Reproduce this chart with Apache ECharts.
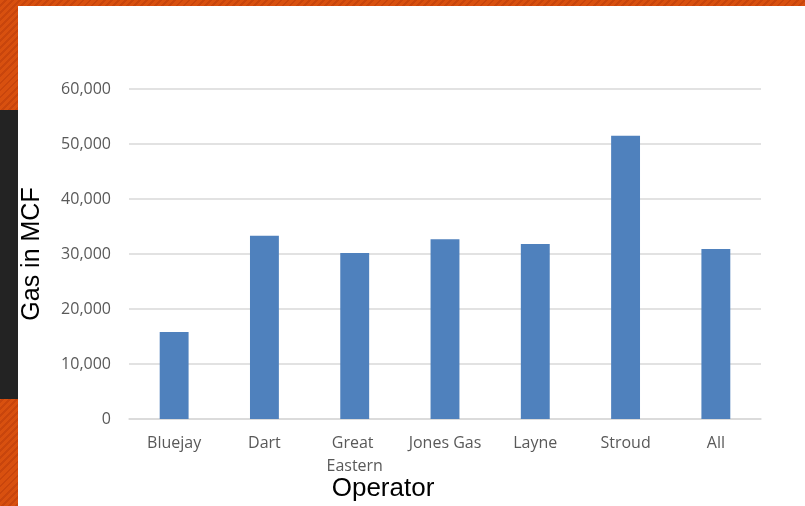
<!DOCTYPE html>
<html>
<head>
<meta charset="utf-8">
<script src="https://cdn.jsdelivr.net/npm/echarts@6/dist/echarts.min.js"></script>
<style>
  html, body { margin: 0; padding: 0; }
  body {
    width: 805px; height: 506px; position: relative; overflow: hidden;
    background: repeating-linear-gradient(135deg, #d8500f 0px, #d8500f 3px, #c8450c 3px, #c8450c 5px);
  }
  #band { position: absolute; left: 0; top: 110px; width: 18px; height: 289px; background: #232323; }
  #chart { position: absolute; left: 18px; top: 6px; width: 787px; height: 500px; background: #ffffff; }
</style>
</head>
<body>
<div id="band"></div>
<div id="chart"></div>
<script>
const categories = ['Bluejay', 'Dart', 'Great Eastern', 'Jones Gas', 'Layne', 'Stroud', 'All'];
const gasValues = [15800, 33300, 30200, 32700, 31800, 51500, 30900];
const yTicks = { min: 0, max: 60000, interval: 10000 };
const xAxisTitle = 'Operator';
const yAxisTitle = 'Gas in MCF';

const chart = echarts.init(document.getElementById('chart'), null, { renderer: 'canvas' });
chart.setOption({
  animation: false,
  backgroundColor: '#ffffff',
  grid: { left: 111, right: 44, top: 83, bottom: 87, containLabel: false, outerBoundsMode: 'none' },
  xAxis: {
    type: 'category',
    data: categories,
    name: xAxisTitle,
    nameLocation: 'middle',
    nameGap: 57,
    nameMoveOverlap: false,
    nameTextStyle: { fontFamily: 'Liberation Sans', fontSize: 26, color: '#000000', padding: [0, 124, 0, 0] },
    axisLine: { show: true, lineStyle: { color: '#d9d9d9', width: 1.5 } },
    axisTick: { show: false },
    axisLabel: {
      interval: 0,
      margin: 13,
      fontFamily: 'Open Sans',
      fontSize: 16,
      color: '#595959',
      width: 86,
      overflow: 'break',
      lineHeight: 23
    }
  },
  yAxis: {
    type: 'value',
    min: yTicks.min,
    max: yTicks.max,
    interval: yTicks.interval,
    name: yAxisTitle,
    nameLocation: 'middle',
    nameGap: 84,
    nameMoveOverlap: false,
    nameTextStyle: { fontFamily: 'Liberation Sans', fontSize: 25, color: '#000000' },
    axisLine: { show: false },
    axisTick: { show: false },
    splitLine: { lineStyle: { color: '#d9d9d9', width: 1.5 } },
    axisLabel: {
      margin: 18,
      fontFamily: 'Open Sans',
      fontSize: 16,
      color: '#595959',
      formatter: v => v.toLocaleString('en-US')
    }
  },
  series: [{
    type: 'bar',
    data: gasValues,
    barWidth: '32%',
    itemStyle: { color: '#4f81bd' }
  }]
});
</script>
</body>
</html>
